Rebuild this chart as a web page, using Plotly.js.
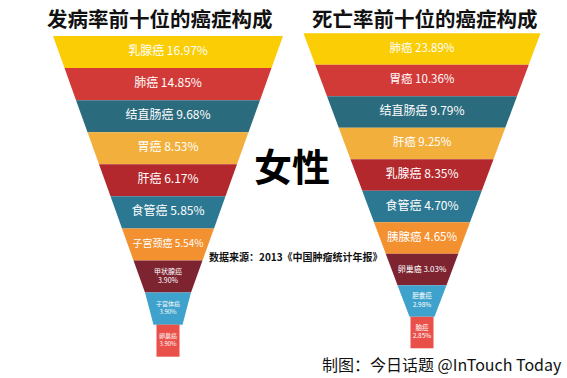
<!DOCTYPE html>
<html>
<head>
<meta charset="utf-8">
<script src="https://cdn.plot.ly/plotly-3.0.1.min.js"></script>
<style>html,body{margin:0;padding:0;background:#fff;}#chart{width:567px;height:378px;}</style>
</head>
<body>
<div id="chart"></div>
<script>
// ---- data ----
const incidenceNames = ['乳腺癌','肺癌','结直肠癌','胃癌','肝癌','食管癌','子宫颈癌','甲状腺癌','子宫体癌','卵巢癌'];
const incidenceShares = [16.97,14.85,9.68,8.53,6.17,5.85,5.54,3.90,3.90,3.90];
const mortalityNames = ['肺癌','胃癌','结直肠癌','肝癌','乳腺癌','食管癌','胰腺癌','卵巢癌','胆囊癌','脑癌'];
const mortalityShares = [23.89,10.36,9.79,9.25,8.35,4.70,4.65,3.03,2.98,2.85];
const titleLeft = '发病率前十位的癌症构成';
const titleRight = '死亡率前十位的癌症构成';
const centerLabel = '女性';
const sourceNote = '数据来源：2013《中国肿瘤统计年报》';
const credit = '制图：今日话题 @InTouch Today';

// ---- style ----
const stageColors = ['#FACD05','#D23A38','#2B6B7E','#F2AF3C','#B3282D','#2C7892','#F3902F','#7E2430','#3EA2CC','#E9504A'];
const FONT = '"Noto Sans CJK SC", "Noto Sans", sans-serif';

function funnelTraces(names, shares, g) {
  const traces = [];
  const n = names.length;
  const bw = [];
  for (let k = 0; k < n - 1; k++) bw.push(g.topW - g.step * k);
  bw.push(g.lastTopW);
  const tx = [], ty = [], tt = [], ts = [];
  for (let i = 0; i < n; i++) {
    const y0 = g.top + i * g.h, y1 = y0 + g.h;
    let w0, w1;
    if (i < n - 1) { w0 = bw[i]; w1 = bw[i + 1]; }
    else { w0 = g.rectW; w1 = g.rectW; }
    traces.push({
      type: 'scatter', mode: 'lines', fill: 'toself',
      x: [g.cx - w0 / 2, g.cx + w0 / 2, g.cx + w1 / 2, g.cx - w1 / 2, g.cx - w0 / 2],
      y: [y0, y0, y1, y1, y0],
      line: {width: 0, color: stageColors[i]},
      fillcolor: stageColors[i],
      hoverinfo: 'skip', showlegend: false
    });
    tx.push(g.cx);
    ty.push((y0 + y1) / 2);
    const val = shares[i].toFixed(2) + '%';
    tt.push(i >= g.twoLineFrom ? names[i] + '<br>' + val : names[i] + ' ' + val);
    ts.push(g.sizes[i]);
  }
  traces.push({
    type: 'scatter', mode: 'text', x: tx, y: ty, text: tt,
    textposition: 'middle center',
    textfont: {family: FONT, size: ts, color: '#ffffff'},
    hoverinfo: 'skip', showlegend: false
  });
  return traces;
}

const leftGeom = {cx: 168, top: 36, h: 32.07, topW: 230, step: 23, lastTopW: 29, rectW: 23,
  twoLineFrom: 7, sizes: [12,12,12,12,12,12,10,7,6,6]};
const rightGeom = {cx: 422, top: 33.3, h: 31.5, topW: 237, step: 23.5, lastTopW: 25, rectW: 23,
  twoLineFrom: 8, sizes: [11.5,11.5,12,11.5,12,12,11.5,8,6.5,6.5]};

const data = [].concat(
  funnelTraces(incidenceNames, incidenceShares, leftGeom),
  funnelTraces(mortalityNames, mortalityShares, rightGeom)
);

const ann = (text, x, y, size, weight, color, xanchor) => ({
  text: text, x: x, y: y, xref: 'x', yref: 'y', showarrow: false,
  xanchor: xanchor || 'center', yanchor: 'middle',
  font: {family: FONT, size: size, weight: weight, color: color || '#111111'}
});

const layout = {
  width: 567, height: 378,
  margin: {l: 0, r: 0, t: 0, b: 0},
  paper_bgcolor: '#ffffff', plot_bgcolor: '#ffffff',
  xaxis: {range: [0, 567], visible: false, fixedrange: true},
  yaxis: {range: [378, 0], visible: false, fixedrange: true},
  hovermode: false,
  annotations: [
    ann(titleLeft, 160, 18, 20.5, 'bold', '#111111'),
    ann(titleRight, 425, 18, 20.5, 'bold', '#111111'),
    ann(centerLabel, 292, 164, 38, 'bold', '#000000'),
    ann(sourceNote, 207, 256, 10, 'bold', '#111111', 'left'),
    ann(credit, 564, 364, 16, 'normal', '#111111', 'right')
  ]
};

Plotly.newPlot('chart', data, layout, {staticPlot: true, displayModeBar: false});
</script>
</body>
</html>
